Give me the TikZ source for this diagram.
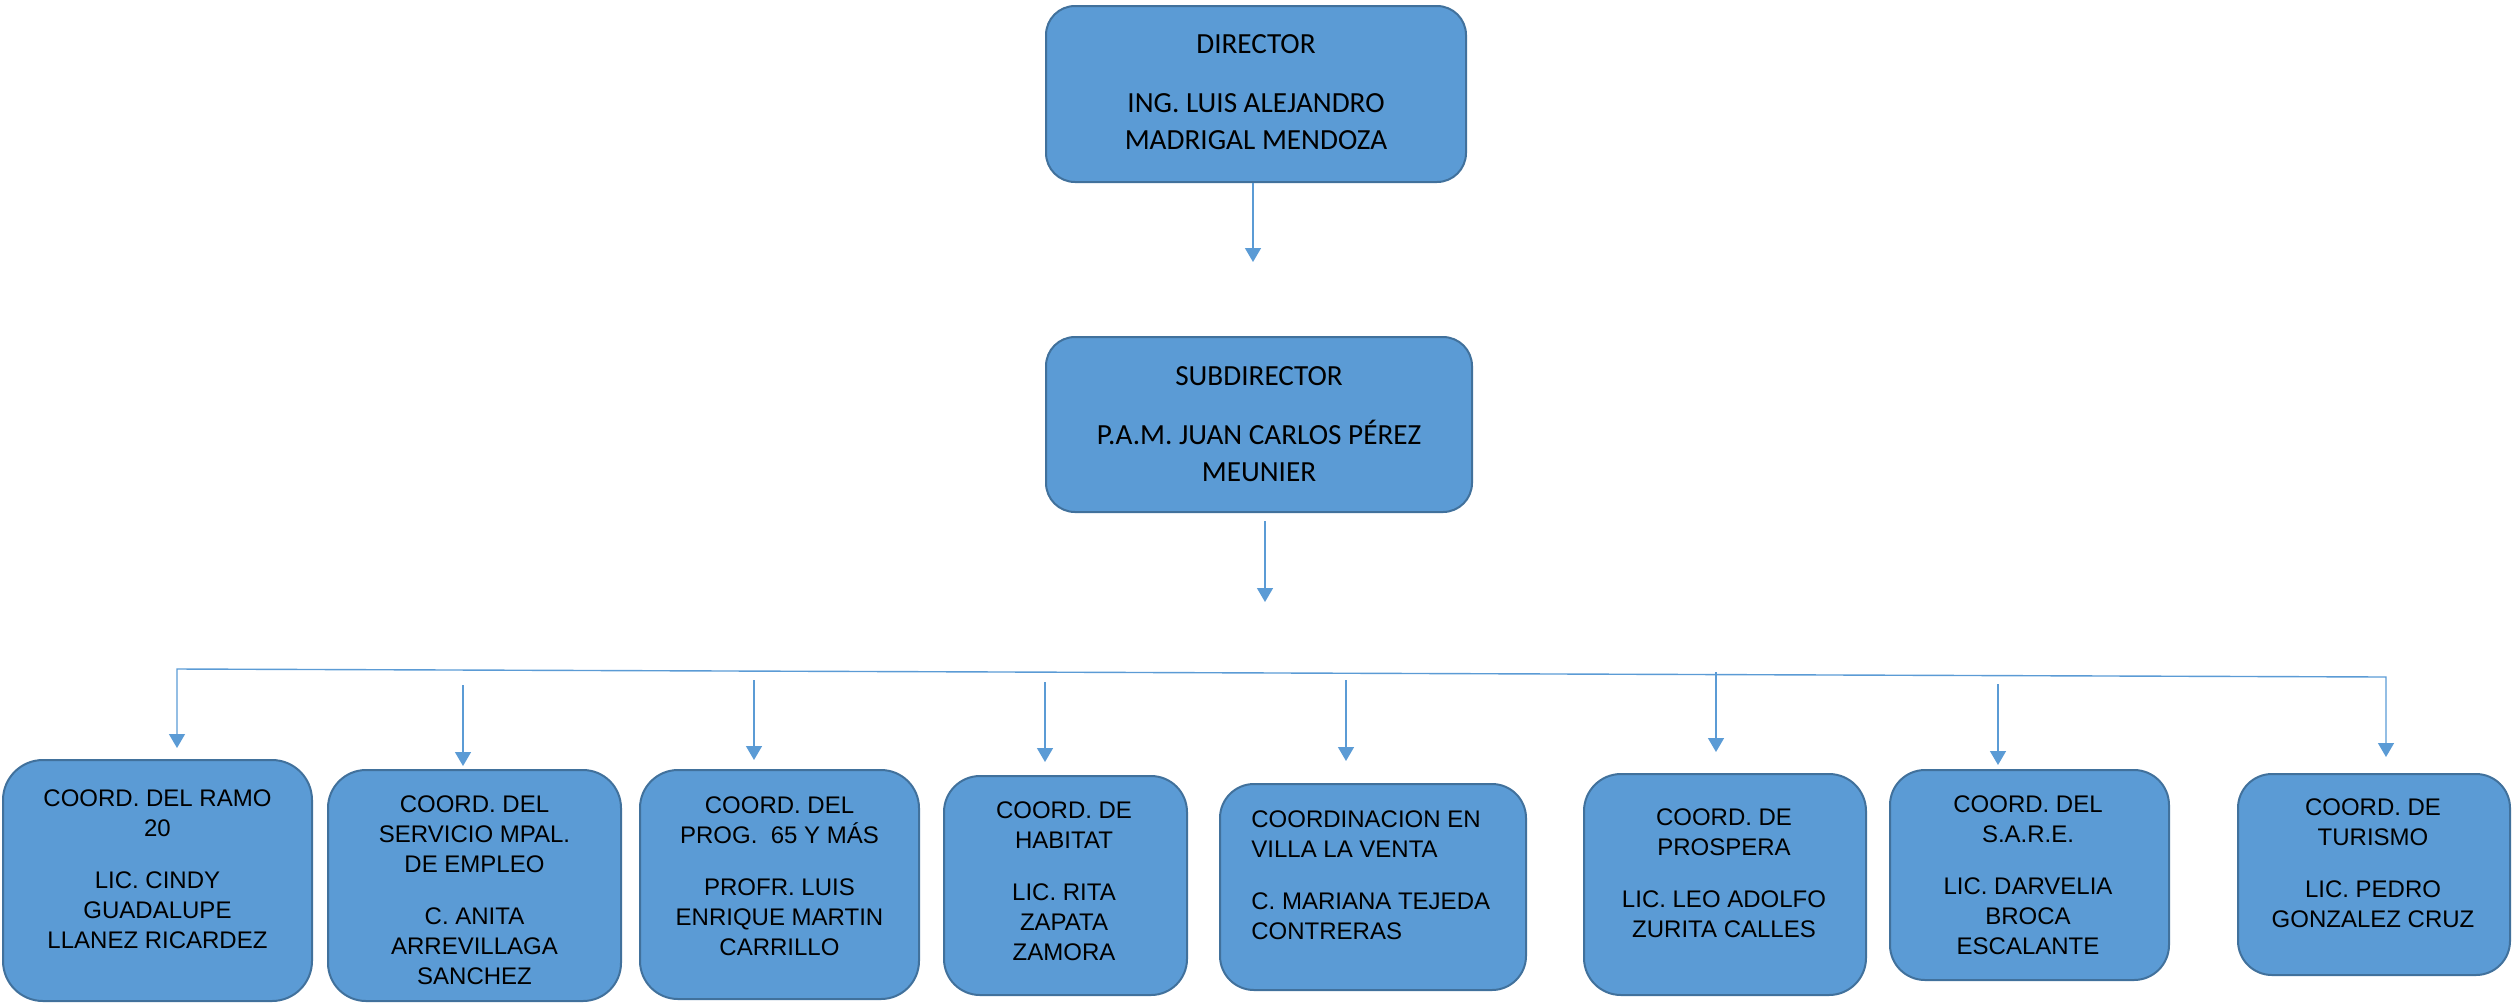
\documentclass[tikz,border=0pt]{standalone}
\usepackage{fontspec}
\setmainfont{Liberation Sans}
\newfontfamily\carlito{Carlito}
\usetikzlibrary{arrows.meta}
\definecolor{boxfill}{HTML}{5B9BD5}
\definecolor{boxline}{HTML}{41719C}
\definecolor{connc}{HTML}{5B9BD5}
\begin{document}
\begin{tikzpicture}[x=0.5pt,y=-0.5pt,
  box/.style={draw=boxline, fill=boxfill, line width=1pt, inner sep=0pt},
  toptext/.style={font=\carlito\fontsize{14.6pt}{18.5pt}\selectfont, align=center, inner sep=0pt},
  lowtext/.style={font=\fontsize{12pt}{15pt}\selectfont, align=center, inner sep=0pt},
  conn/.style={draw=connc, line width=0.7pt},
  arr/.style={conn, -{Triangle[width=8pt,length=7pt]}}]
\useasboundingbox (0,0) rectangle (2518,1003);
\clip (0,0) rectangle (2518,1003);

% top boxes
\node[box, minimum width=210pt, minimum height=88pt, rounded corners=14.5pt] (dir) at (1256,94) {};
\node[toptext] (tdir) at (1256,92) {DIRECTOR\\[11pt]ING. LUIS ALEJANDRO\\MADRIGAL MENDOZA};
\node[box, minimum width=213pt, minimum height=87.5pt, rounded corners=14.5pt] (sub) at (1259,424.5) {};
\node[toptext] (tsub) at (1259,424) {SUBDIRECTOR\\[11pt]P.A.M. JUAN CARLOS PÉREZ\\MEUNIER};

% bottom boxes
\node[box, minimum width=154.5pt, minimum height=120.5pt, rounded corners=20pt] (b1) at (157.5,880.5) {};
\node[box, minimum width=146.5pt, minimum height=115.5pt, rounded corners=19pt] (b2) at (474.5,885.5) {};
\node[box, minimum width=139.5pt, minimum height=114.5pt, rounded corners=19pt] (b3) at (779.5,884.5) {};
\node[box, minimum width=121.5pt, minimum height=109.5pt, rounded corners=18pt] (b4) at (1065.5,885.5) {};
\node[box, minimum width=153pt, minimum height=103pt, rounded corners=17pt] (b5) at (1373,887) {};
\node[box, minimum width=141pt, minimum height=110.5pt, rounded corners=18.5pt] (b6) at (1725,884.5) {};
\node[box, minimum width=139.5pt, minimum height=105pt, rounded corners=17.5pt] (b7) at (2029.5,875) {};
\node[box, minimum width=136pt, minimum height=100.5pt, rounded corners=17pt] (b8) at (2374,874.5) {};

\node[lowtext] (t1) at (157.5,869.5) {COORD. DEL RAMO\\20\\[11pt]LIC. CINDY\\GUADALUPE\\LLANEZ RICARDEZ};
\node[lowtext] (t2) at (474.5,890) {COORD. DEL\\SERVICIO MPAL.\\DE EMPLEO\\[11pt]C. ANITA\\ARREVILLAGA\\SANCHEZ};
\node[lowtext] (t3) at (779.5,876.5) {COORD. DEL\\PROG.~~65 Y MÁS\\[11pt]PROFR. LUIS\\ENRIQUE MARTIN\\CARRILLO};
\node[lowtext] (t4) at (1064,881.5) {COORD. DE\\HABITAT\\[11pt]LIC. RITA\\ZAPATA\\ZAMORA};
\node[lowtext, align=left, anchor=west] (t5) at (1251,875) {COORDINACION EN\\VILLA LA VENTA\\[11pt]C. MARIANA TEJEDA\\CONTRERAS};
\node[lowtext] (t6) at (1724,873) {COORD. DE\\PROSPERA\\[11pt]LIC. LEO ADOLFO\\ZURITA CALLES};
\node[lowtext] (t7) at (2028,875.5) {COORD. DEL\\S.A.R.E.\\[11pt]LIC. DARVELIA\\BROCA\\ESCALANTE};
\node[lowtext] (t8) at (2373,863.5) {COORD. DE\\TURISMO\\[11pt]LIC. PEDRO\\GONZALEZ CRUZ};

% connectors
\coordinate (a0) at (1253,263);
\draw[arr, shorten >=37pt] (dir.south -| a0) -- (a0 |- sub.north);
\coordinate (a1) at (1265,602);
\draw[arr, shorten <=4pt] (sub.south -| a1) -- (a1);

\coordinate (hl) at (177,669);
\coordinate (hr) at (2386,677);
\draw[conn, {Triangle[width=8pt,length=7pt]}-{Triangle[width=8pt,length=7pt]}, shorten <=5.5pt, shorten >=8pt]
  (hl |- b1.north) -- (hl) -- (hr) -- (hr |- b8.north);

\coordinate (s2) at (463,685);
\coordinate (s3) at (754,680);
\coordinate (s4) at (1045,682);
\coordinate (s5) at (1346,680);
\coordinate (s6) at (1716,672);
\coordinate (s7) at (1998,684);
\draw[arr, shorten >=1.5pt] (s2) -- (s2 |- b2.north);
\draw[arr, shorten >=4.5pt] (s3) -- (s3 |- b3.north);
\draw[arr, shorten >=6.5pt] (s4) -- (s4 |- b4.north);
\draw[arr, shorten >=11pt] (s5) -- (s5 |- b5.north);
\draw[arr, shorten >=10.5pt] (s6) -- (s6 |- b6.north);
\draw[arr, shorten >=2pt] (s7) -- (s7 |- b7.north);
\end{tikzpicture}
\end{document}
